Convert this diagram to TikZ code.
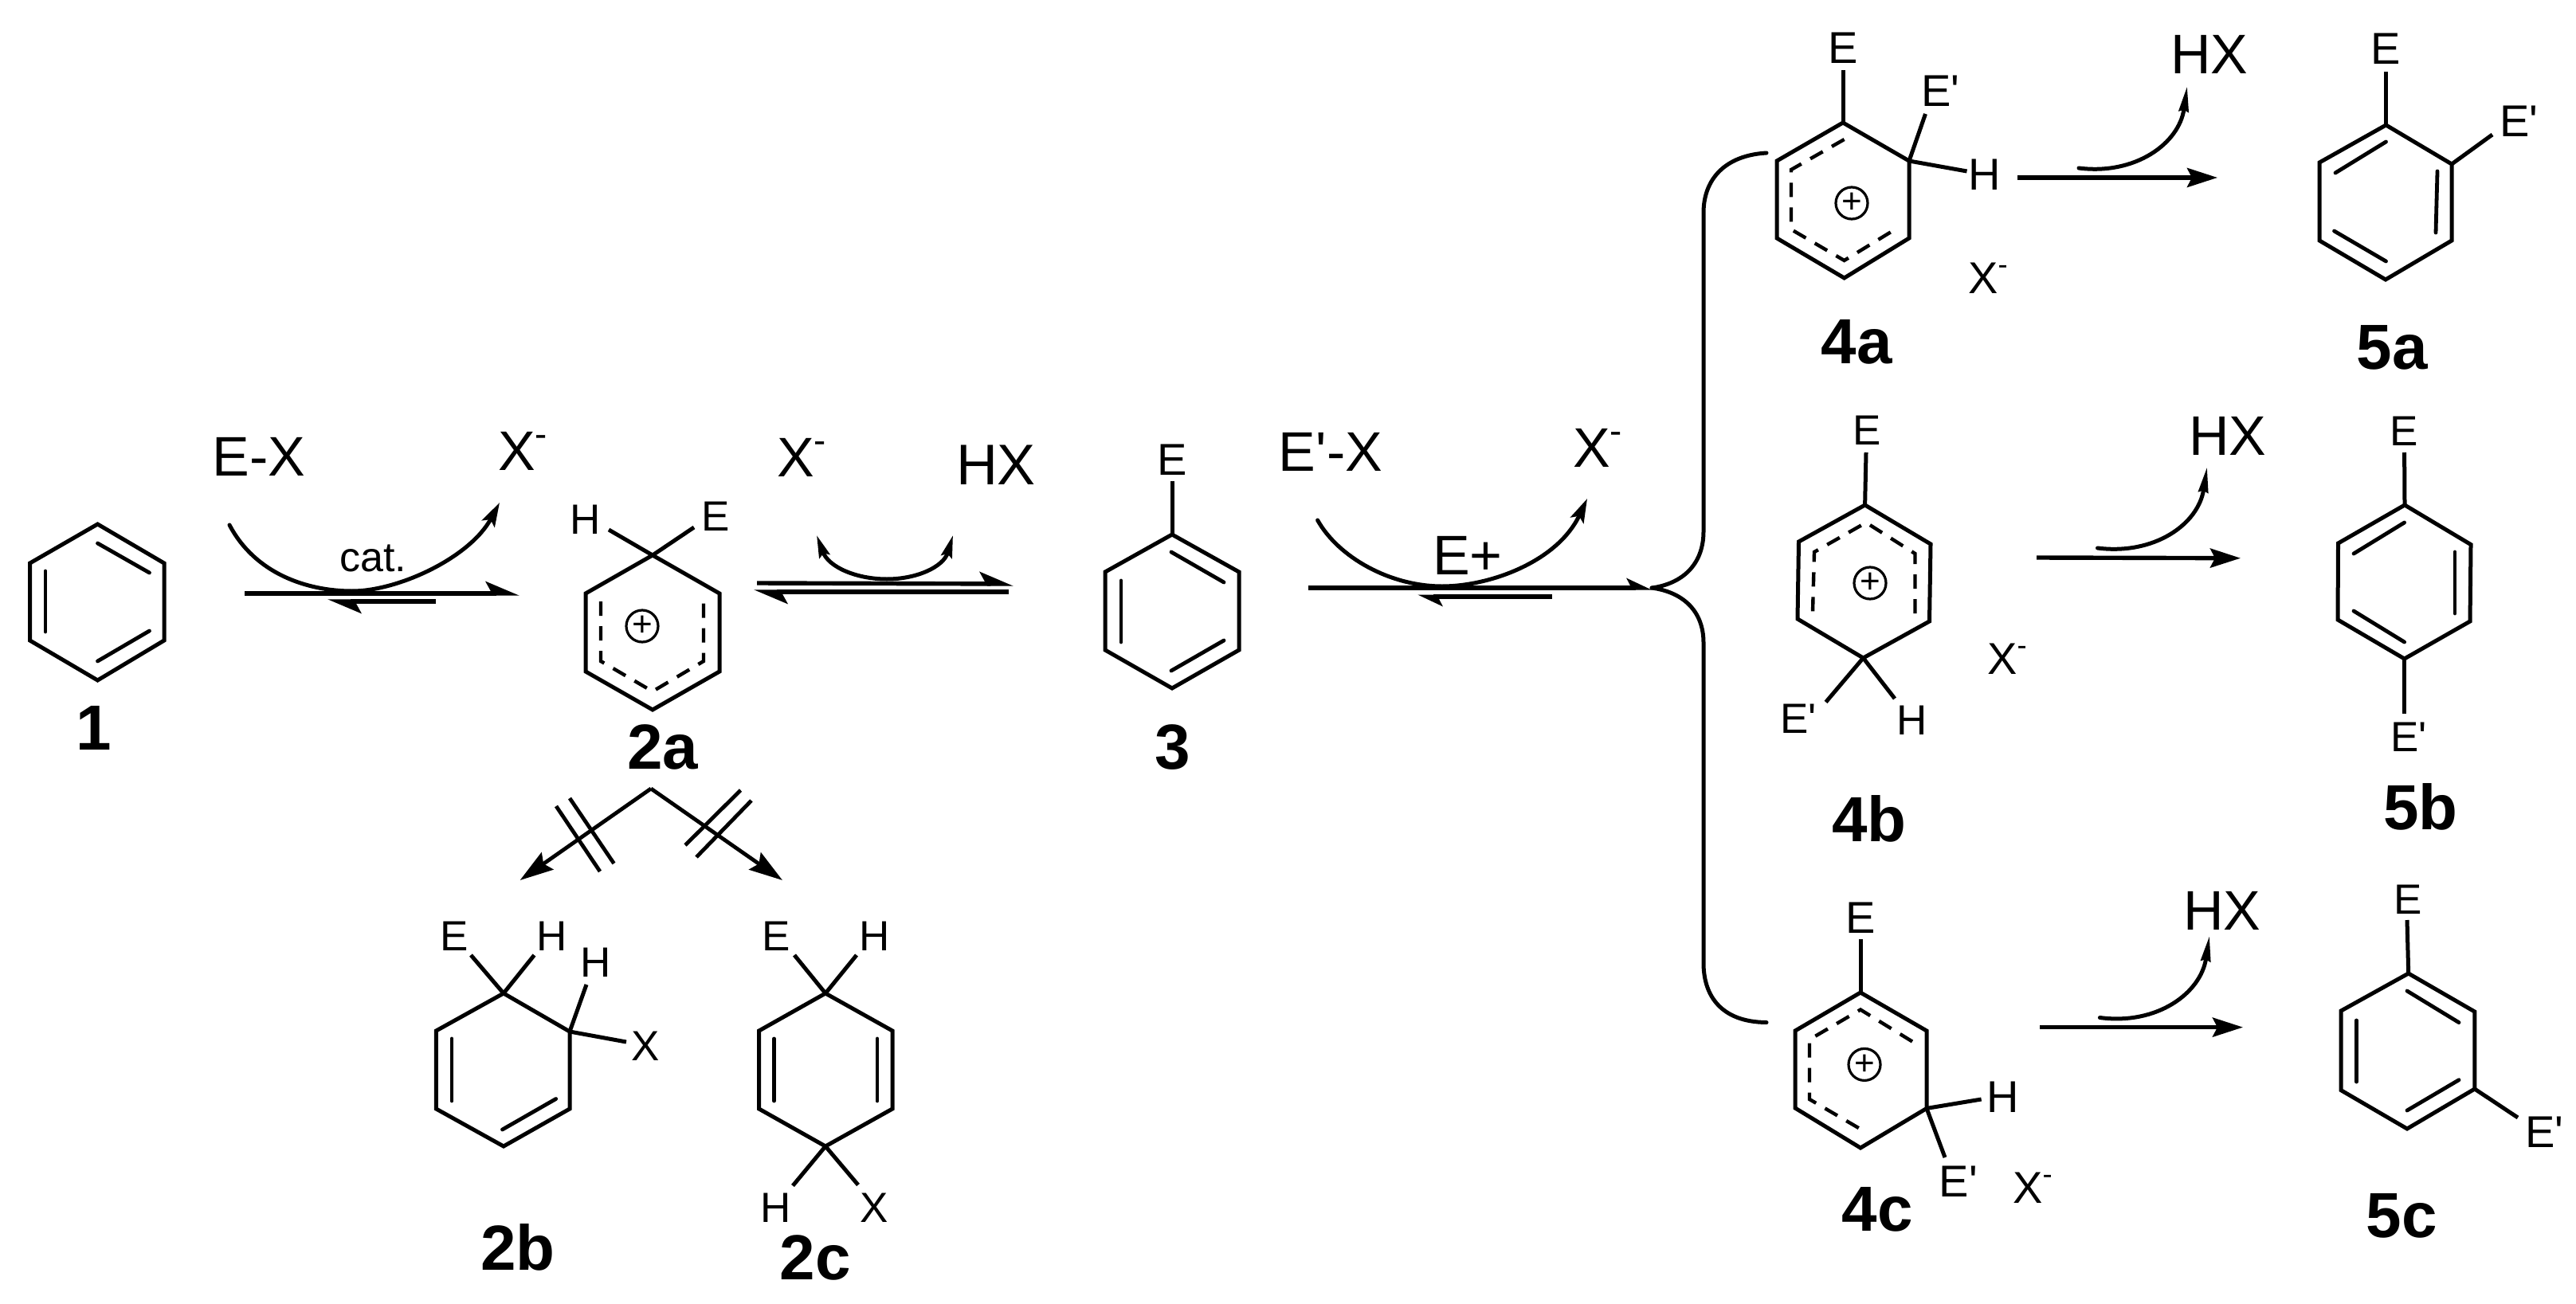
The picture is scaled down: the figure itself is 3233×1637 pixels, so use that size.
\documentclass[tikz,border=0pt]{standalone}
\usepackage{fontspec}
\setmainfont{Liberation Sans}
\usetikzlibrary{arrows.meta}
\newcommand\Xminus{X\raisebox{.42em}{\scalebox{.65}{-}}}
\newcommand\Eprime{E\textquotesingle}
% ring: name, then six vertices clockwise from the top
\newcommand\hexring[7]{%
  \coordinate (#1a) at (#2);\coordinate (#1b) at (#3);\coordinate (#1c) at (#4);
  \coordinate (#1d) at (#5);\coordinate (#1e) at (#6);\coordinate (#1f) at (#7);
  \draw[bond] (#1a)--(#1b)--(#1c)--(#1d)--(#1e)--(#1f)--cycle;}
\newcommand\dbl[2]{\draw[innerbond] (#1)--(#2);}
\newcommand\bondto[3]{\coordinate (#2) at (#3);\draw[bond] (#1)--(#2);}
\tikzset{
  x=0.5pt,y=-0.5pt,
  bond/.style={line width=2.5pt,line join=miter,black},
  innerbond/.style={line width=2.4pt,line cap=round,black},
  dashring/.style={line width=2.2pt,dash pattern=on 9pt off 6.5pt,line join=miter},
  thinarc/.style={line width=2.5pt,line cap=round},
  rxn/.style={line width=2.7pt},
  harp/.style={rxn,-{Stealth[harpoon,length=18pt,width=15pt,inset=4pt]}},
  harpb/.style={rxn,-{Stealth[harpoon,length=13pt,width=12pt,inset=3pt]}},
  straight/.style={rxn,-{Stealth[length=19pt,width=12pt,inset=3pt]}},
  branch/.style={line width=2.4pt,-{Stealth[length=21pt,width=13pt,inset=3pt]}},
  curved/.style={thinarc,-{Stealth[length=15pt,width=9pt,inset=3pt]}},
  curvedboth/.style={thinarc,{Stealth[length=14pt,width=7pt,inset=2pt]}-{Stealth[length=14pt,width=7pt,inset=2pt]}},
  curvedhx/.style={thinarc,-{Stealth[length=16pt,width=6pt,inset=1pt]}},
  txt/.style={anchor=base,inner sep=0pt,outer sep=0pt},
  big/.style={txt,font=\fontsize{35pt}{35pt}\selectfont},
  med/.style={txt,font=\fontsize{28pt}{28pt}\selectfont},
  sma/.style={txt,font=\fontsize{26.5pt}{28pt}\selectfont},
  cmpd/.style={txt,font=\bfseries\fontsize{40pt}{40pt}\selectfont},
  charge/.style={circle,draw,line width=1.6pt,inner sep=0pt,minimum size=20pt,font=\fontsize{22pt}{22pt}\selectfont},
}
\begin{document}
\begin{tikzpicture}
\useasboundingbox (0,0) rectangle (3233,1637);

% 1
\hexring{A}{122.5,658}{206,707}{206,804}{122.5,854}{37.5,804}{37.5,707}
\dbl{122.5,682}{187.5,719}\dbl{57,717}{57,793}\dbl{122.5,830}{187.5,792}
\node[cmpd] (n1) at (118,941) {1};

% 1 <-> 2a
\node[big] (ex) at (325,597) {E-X};
\node[big] (xm1) at (656,590) {\Xminus};
\node[txt,font=\fontsize{26pt}{26pt}\selectfont] (cat) at (468,717) {cat.};
\coordinate (f1s) at (307,745);\coordinate (f1e) at (652,745);
\coordinate (r1s) at (547,755);\coordinate (r1e) at (411,755);
\draw[harp] (f1s)--(f1e);
\draw[harp] (r1s)--(r1e);
\coordinate (c1a) at (288,659);\coordinate (c1b) at (442,742);\coordinate (c1c) at (627,631);
\draw[curved] (c1a) .. controls (320,720) and (385,742) .. (c1b) .. controls (500,742) and (590,700) .. (c1c);

% 2a
\hexring{B}{819,697}{903,745}{903,843}{819,891}{735,843}{735,745}
\bondto{Ba}{Bh}{764,665}\bondto{Ba}{Be}{871,662}
\node[sma] (h2a) at (735,670) {H};
\node[sma] (e2a) at (898,666) {E};
\draw[dashring] (754,755)--(754,830)--(819,868)--(883,830)--(883,755);
\node[charge] (p2a) at (806,786) {+};
\node[cmpd] (n2a) at (832,965) {2a};

% 2a <-> 3
\node[big] (xm2) at (1006,598) {\Xminus};
\node[txt,font=\fontsize{36pt}{36pt}\selectfont] (hx0) at (1250,608) {HX};
\coordinate (f2s) at (950,732);\coordinate (f2e) at (1272,733);
\coordinate (r2s) at (1266,743);\coordinate (r2e) at (946,743);
\draw[harp] (f2s)--(f2e);
\draw[harp] (r2s)--(r2e);
\coordinate (c2a) at (1025,672);\coordinate (c2b) at (1113,727);\coordinate (c2c) at (1196,672);
\draw[curvedboth] (c2a) .. controls (1040,712) and (1075,727) .. (c2b) .. controls (1150,727) and (1184,712) .. (c2c);

% branch to 2b / 2c
\coordinate (apex) at (817,990);\coordinate (t2b) at (652.6,1105);\coordinate (t2c) at (982,1105);
\draw[branch] (apex)--(t2b);
\draw[branch] (apex)--(t2c);
\draw[line width=2.4pt] (698,1012)--(753,1094) (715,1002)--(770.5,1084);
\draw[line width=2.4pt] (929.5,992)--(860,1061) (943,1005)--(874,1076);

% 2b
\hexring{C}{632,1247}{715,1295}{715,1392}{632,1439}{547.4,1392}{547.4,1294}
\dbl{567,1304}{567,1382}\dbl{630.5,1418}{697.7,1379.5}
\bondto{Ca}{Ce}{591,1199}\bondto{Ca}{Ch}{670.5,1199}
\bondto{Cb}{Ch2}{736,1236}\bondto{Cb}{Cx}{786,1308}
\node[sma] (e2b) at (570,1193) {E};
\node[sma] (h2b) at (693,1193) {H};
\node[sma] (h2bb) at (748,1226) {H};
\node[sma] (x2b) at (810,1331.5) {X};
\node[cmpd] (n2b) at (650,1594) {2b};

% 2c
\hexring{D}{1036,1247}{1120,1294}{1120,1392}{1036,1439}{952.6,1392}{952.6,1294}
\dbl{971.5,1304}{971.5,1382}\dbl{1101,1304}{1101,1382}
\bondto{Da}{De}{997,1199}\bondto{Da}{Dh}{1075,1199}
\bondto{Dd}{Dh2}{995,1488.5}\bondto{Dd}{Dx}{1077,1487.5}
\node[sma] (e2c) at (974,1193) {E};
\node[sma] (h2c) at (1098,1193) {H};
\node[sma] (h2cb) at (974,1534.6) {H};
\node[sma] (x2c) at (1097,1534.6) {X};
\node[cmpd] (n2c) at (1023,1606) {2c};

% 3
\hexring{F}{1471,671}{1555,718}{1555,816}{1471,864}{1387,816}{1387,718}
\dbl{1470,693}{1536,731}\dbl{1407,729}{1407,806}\dbl{1536,804}{1470,842}
\bondto{Fa}{Fe}{1471,604}
\node[med] (e3) at (1471,596) {E};
\node[cmpd] (n3) at (1472,965) {3};

% 3 <-> 4
\node[big] (epx) at (1670,591) {\Eprime-X};
\node[big] (xm3) at (2005,586) {\Xminus};
\node[big] (eplus) at (1842,721) {E+};
\coordinate (f3s) at (1642,738);\coordinate (f3e) at (2073,738);
\coordinate (r3s) at (1948,749);\coordinate (r3e) at (1779,749);
\draw[harpb] (f3s)--(f3e);
\draw[harpb] (r3s)--(r3e);
\coordinate (c3a) at (1653.6,653);\coordinate (c3b) at (1810,736);\coordinate (c3c) at (1992,626);
\draw[curved] (c3a) .. controls (1680,700) and (1745,736) .. (c3b) .. controls (1870,736) and (1955,705) .. (c3c);

% bracket
\coordinate (bt) at (2217,192);\coordinate (bm) at (2073,738);\coordinate (bb) at (2217,1283.5);
\draw[thinarc] (bt) .. controls (2165,195) and (2138,225) .. (2138,267) -- (2138,667) .. controls (2138,710) and (2110,733) .. (bm);
\draw[thinarc] (bm) .. controls (2110,743) and (2138,765) .. (2138,807) -- (2138,1209) .. controls (2138,1250) and (2160,1283) .. (bb);

% 4a
\hexring{G}{2313,154}{2396,202}{2396,299}{2314.6,349}{2230,299}{2230,202}
\bondto{Ga}{Ge}{2313,88}\bondto{Gb}{Gep}{2416.5,143}\bondto{Gb}{Gh}{2468.5,215}
\node[med] (e4a) at (2313,80) {E};
\node[med] (ep4a) at (2435,134) {\Eprime};
\node[med] (h4a) at (2491,239) {H};
\draw[dashring] (2314.6,175)--(2248,213)--(2248,288)--(2314.6,327)--(2380,287);
\node[charge] (p4a) at (2324,255) {+};
\node[med] (xm4a) at (2495,368) {\Xminus};
\node[cmpd] (n4a) at (2330,456) {4a};
\node[big] (hx4a) at (2773,93) {HX};
\coordinate (h4s) at (2609,211);\coordinate (h4e) at (2745,108);
\draw[curvedhx] (h4s) .. controls (2680,220) and (2735,180) .. (h4e);
\coordinate (a4s) at (2532,223);\coordinate (a4e) at (2783,223);
\draw[straight] (a4s)--(a4e);

% 5a
\hexring{H}{2994.5,157}{3077,206}{3077,302}{2994,351}{2911,302}{2911,204}
\dbl{2994.5,178}{2931,217}\dbl{3059,215}{3057,292}\dbl{2929.5,290}{2994.5,328}
\bondto{Ha}{He}{2994.5,90}\bondto{Hb}{Hep}{3128,169}
\node[med] (e5a) at (2994,81) {E};
\node[med] (ep5a) at (3161,172) {\Eprime};
\node[cmpd] (n5a) at (3002,463) {5a};

% 4b
\hexring{J}{2340.6,634}{2423,683}{2421.5,780}{2338.4,826}{2256,777}{2257.5,680}
\bondto{Ja}{Je}{2342,568}\bondto{Jd}{Jep}{2291.5,881.4}\bondto{Jd}{Jh}{2378,877}
\node[sma] (e4b) at (2343,558) {E};
\node[sma] (ep4b) at (2257,920.7) {\Eprime};
\node[sma] (h4b) at (2399.5,922) {H};
\draw[dashring] (2403.5,770)--(2403.5,695)--(2342,656)--(2277,693)--(2275,768.6);
\node[charge] (p4b) at (2347,732) {+};
\node[med] (xm4b) at (2519,846) {\Xminus};
\node[cmpd] (n4b) at (2346,1056) {4b};
\node[big] (hx4b) at (2796,571) {HX};
\coordinate (h5s) at (2632.5,688);\coordinate (h5e) at (2770,586);
\draw[curvedhx] (h5s) .. controls (2704,697) and (2759,658) .. (h5e);
\coordinate (a5s) at (2556,700);\coordinate (a5e) at (2812,700.7);
\draw[straight] (a5s)--(a5e);

% 5b
\hexring{K}{3018,634}{3101,683.6}{3100,780}{3017.6,827}{2934,778}{2934.5,682}
\dbl{3017.6,656}{2954,695}\dbl{3081,693}{3081,770}\dbl{2954,767}{3017.6,806}
\bondto{Ka}{Ke}{3017.6,568}\bondto{Kd}{Kep}{3017.6,896}
\node[sma] (e5b) at (3017.5,559) {E};
\node[sma] (ep5b) at (3023,943.6) {\Eprime};
\node[cmpd] (n5b) at (3038,1041) {5b};

% 4c
\hexring{L}{2335,1246}{2418,1294}{2418,1391.4}{2335,1441}{2253,1391}{2253,1294}
\bondto{La}{Le}{2335,1179}\bondto{Lc}{Lh}{2486.6,1380}\bondto{Lc}{Lep}{2441,1453}
\node[med] (e4c) at (2335.5,1171) {E};
\node[med] (h4c) at (2513.7,1396) {H};
\node[med] (ep4c) at (2457.7,1502.5) {\Eprime};
\draw[dashring] (2400,1307.5)--(2335,1267.5)--(2271,1305)--(2271,1380)--(2336,1418);
\node[charge] (p4c) at (2340,1336.4) {+};
\node[med] (xm4c) at (2551,1510) {\Xminus};
\node[cmpd] (n4c) at (2356,1545) {4c};
\node[big] (hx4c) at (2789,1167) {HX};
\coordinate (h6s) at (2635.4,1277.5);\coordinate (h6e) at (2773,1174.6);
\draw[curvedhx] (h6s) .. controls (2707,1287) and (2762,1247) .. (h6e);
\coordinate (a6s) at (2560,1289.6);\coordinate (a6e) at (2815,1289.6);
\draw[straight] (a6s)--(a6e);

% 5c
\hexring{M}{3022.7,1222}{3105.8,1270}{3105.8,1367}{3021,1417}{2938,1368.6}{2938,1269}
\dbl{3021,1244}{3086,1283.6}\dbl{2957.6,1281}{2957.6,1358}\dbl{3086,1355.7}{3021,1394}
\bondto{Ma}{Me}{3021,1155}\bondto{Mc}{Mep}{3160,1403}
\node[sma] (e5c) at (3022.5,1147) {E};
\node[med] (ep5c) at (3193,1440.7) {\Eprime};
\node[cmpd] (n5c) at (3014,1553) {5c};
\end{tikzpicture}
\end{document}
